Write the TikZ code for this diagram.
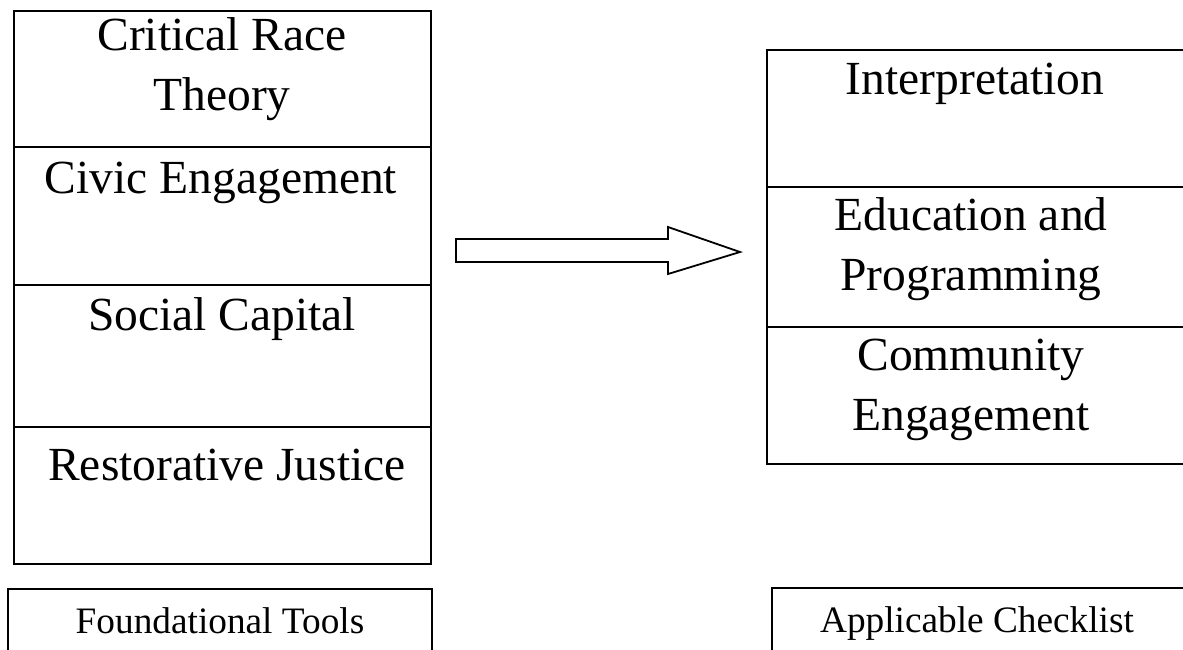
\documentclass[tikz,border=0pt]{standalone}
\usepackage{fontspec}
\setmainfont{Liberation Serif}
\begin{document}
\begin{tikzpicture}[x=1pt,y=-1pt,
  box/.style={draw, line width=2.6pt, line join=miter},
  big/.style={font=\fontsize{47.5}{60}\selectfont, align=center, anchor=base, inner sep=0pt},
  small/.style={font=\fontsize{37.3}{44}\selectfont, anchor=base, inner sep=0pt},
  blockarrow/.style={draw, line width=1.8pt, line join=miter}]
\useasboundingbox (0,0) rectangle (1183,649);
\clip (0,0) rectangle (1183,649);
% left column
\draw[box] (14,11) rectangle (431,147);
\draw[box] (14,147) rectangle (431,285);
\draw[box] (14,285) rectangle (431,427);
\draw[box] (14,427) rectangle (431,564);
\node[big] (crt) at (222,110) {Critical Race\\Theory};
\node[big] (civic) at (221,193) {Civic Engagement};
\node[big] (social) at (222,330) {Social Capital};
\node[big] (restor) at (227,480) {Restorative Justice};
% right column
\draw[box] (767,50) rectangle (1210,187);
\draw[box] (767,187) rectangle (1210,327);
\draw[box] (767,327) rectangle (1210,464);
\node[big] (interp) at (975,94) {Interpretation};
\node[big] (edu) at (971,290) {Education and\\Programming};
\node[big] (comm) at (971,430) {Community\\Engagement};
% bottom labels
\draw[box] (8,700) -- (8,589) -- (432,589) -- (432,700);
\draw[box] (772,700) -- (772,588) -- (1210,588);
\node[small] (found) at (220,633) {Foundational Tools};
\node[small] (check) at (977,632) {Applicable Checklist};
% block arrow
\draw[blockarrow] (456,239) -- (668,239) -- (668,227) -- (740,252) -- (668,274) -- (668,262) -- (456,262) -- cycle;
\end{tikzpicture}
\end{document}
